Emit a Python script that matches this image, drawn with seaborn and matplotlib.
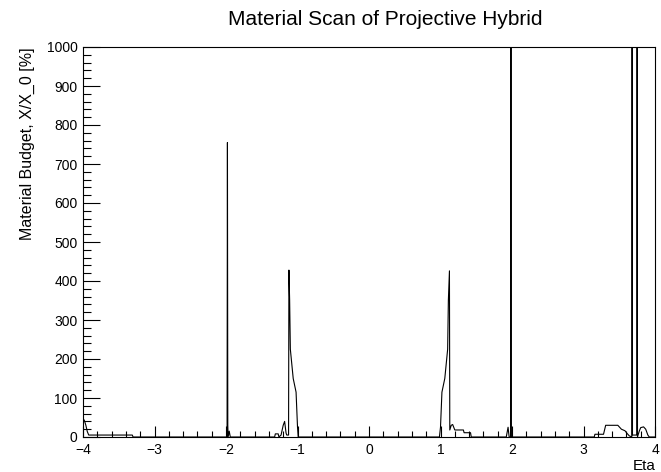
import matplotlib
matplotlib.use('Agg')
import matplotlib.pyplot as plt
import seaborn as sns
from matplotlib.ticker import MultipleLocator

# material budget profile (eta, X/X0 in %)
eta = [-4.00, -3.98, -3.96, -3.94, -3.92, -3.31, -3.30,
       -1.985, -1.98, -1.975, -1.97, -1.955, -1.94,
       -1.32, -1.31, -1.27, -1.26, -1.23, -1.20, -1.18, -1.16, -1.15,
       -1.125, -1.12, -1.11, -1.10, -1.06, -1.02, -1.00, -0.99,
       0.985, 1.00, 1.02, 1.06, 1.10, 1.11, 1.125, 1.13,
       1.15, 1.17, 1.20, 1.32, 1.33, 1.42, 1.43,
       1.92, 1.945, 1.96, 1.98, 1.985, 1.99,
       3.15, 3.16, 3.28, 3.31, 3.48, 3.53, 3.58, 3.61, 3.64,
       3.675, 3.68, 3.685, 3.745, 3.75, 3.755,
       3.78, 3.80, 3.84, 3.87, 3.90, 3.92, 4.00]
budget = [48, 42, 30, 14, 5, 5, 0,
          0, 755, 30, 0, 15, 0,
          0, 8, 8, 0, 5, 30, 40, 10, 5,
          5, 428, 350, 225, 150, 115, 26, 0,
          0, 25, 115, 150, 225, 350, 426, 18,
          30, 32, 18, 18, 11, 11, 0,
          0, 25, 0, 0, 1500, 0,
          0, 7, 7, 30, 30, 20, 16, 9, 3,
          0, 2000, 5, 5, 2000, 0,
          15, 24, 26, 20, 5, 0, 0]

sns.set_style('ticks')
plt.rcParams['font.family'] = ['Liberation Sans', 'DejaVu Sans']
plt.rcParams['text.color'] = 'black'
plt.rcParams['xtick.color'] = 'black'
plt.rcParams['ytick.color'] = 'black'

fig = plt.figure(figsize=(6.61, 4.72), dpi=100)
ax = fig.add_axes([83 / 661, 35 / 472, 572 / 661, 390 / 472])

sns.lineplot(x=eta, y=budget, estimator=None, sort=False, color='black', lw=0.8, ax=ax)

ax.set_xlim(-4, 4)
ax.set_ylim(0, 1000)
ax.xaxis.set_major_locator(MultipleLocator(1))
ax.xaxis.set_minor_locator(MultipleLocator(0.2))
ax.yaxis.set_major_locator(MultipleLocator(100))
ax.yaxis.set_minor_locator(MultipleLocator(20))
ax.tick_params(axis='x', which='major', direction='in', length=8, width=0.8, labelsize=10, pad=4)
ax.tick_params(axis='x', which='minor', direction='in', length=4, width=0.8)
ax.tick_params(axis='y', which='major', direction='in', length=12, width=0.8, labelsize=10, pad=4)
ax.tick_params(axis='y', which='minor', direction='in', length=6, width=0.8)
for s in ax.spines.values():
    s.set_linewidth(0.8)
    s.set_color('black')

fig.text(385 / 661, 1 - 25 / 472, 'Material Scan of Projective Hybrid', ha='center', va='baseline', fontsize=15)
fig.text(27 / 661, 1 - 47 / 472, 'Material Budget, X/X_0 [%]', rotation=90, ha='center', va='top', fontsize=11.5)
fig.text(656 / 661, 1 - 470 / 472, 'Eta', ha='right', va='baseline', fontsize=11)

fig.savefig('out.png', dpi=100)
